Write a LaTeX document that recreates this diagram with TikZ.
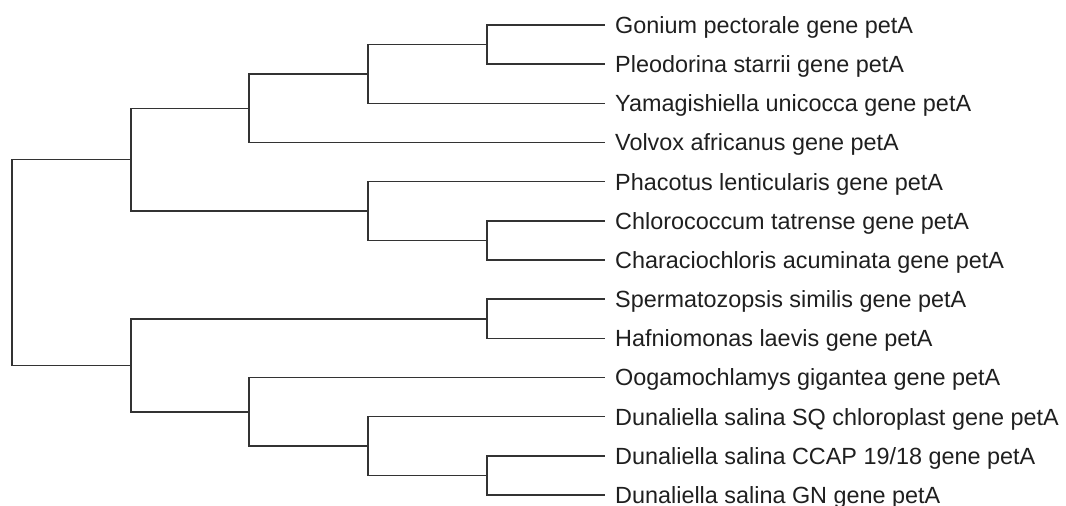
\documentclass[tikz,border=0pt]{standalone}
\usepackage{fontspec}
\setmainfont{Liberation Sans}
\usepackage{tikz}
\definecolor{ink}{gray}{0.12}
\definecolor{edge}{gray}{0.2}
\tikzset{
  taxon/.style={anchor=west, inner xsep=10pt, inner ysep=0pt, text height=16.8pt,
                text depth=0pt, text=ink, font=\fontsize{23.4}{28}\selectfont},
  branch/.style={draw=edge, line width=1.4pt},
}

\begin{document}
\begin{tikzpicture}[x=1pt, y=-1pt]
        \useasboundingbox (0,0) rectangle (1066,506);
        % leaves, top to bottom
        \foreach \name [count=\i] in {Gonium pectorale gene petA, Pleodorina starrii gene petA,
            Yamagishiella unicocca gene petA, Volvox africanus gene petA,
            Phacotus lenticularis gene petA, Chlorococcum tatrense gene petA,
            Characiochloris acuminata gene petA, Spermatozopsis similis gene petA,
            Hafniomonas laevis gene petA, Oogamochlamys gigantea gene petA,
            Dunaliella salina SQ chloroplast gene petA, Dunaliella salina CCAP 19/18 gene petA,
            Dunaliella salina GN gene petA}
          \node[taxon] (l\i) at (605,{25+(\i-1)*39.17}) {\name};
        % inner nodes
        \coordinate (gp) at (487,44.6);
        \coordinate (gpy) at (368,74);
        \coordinate (volv) at (249,108.2);
        \coordinate (chl) at (487,240.4);
        \coordinate (pha) at (368,211);
        \coordinate (up) at (131,159.6);
        \coordinate (sh) at (487,318.8);
        \coordinate (dun) at (487,475.4);
        \coordinate (dsq) at (368,446);
        \coordinate (oog) at (249,411.8);
        \coordinate (lo) at (131,365.3);
        \coordinate (root) at (12,262.5);
        % branches
        \draw[branch] (gp) |- (l1.west) (gp) |- (l2.west);
        \draw[branch] (gpy) |- (gp) (gpy) |- (l3.west);
        \draw[branch] (volv) |- (gpy) (volv) |- (l4.west);
        \draw[branch] (chl) |- (l6.west) (chl) |- (l7.west);
        \draw[branch] (pha) |- (l5.west) (pha) |- (chl);
        \draw[branch] (up) |- (volv) (up) |- (pha);
        \draw[branch] (sh) |- (l8.west) (sh) |- (l9.west);
        \draw[branch] (dun) |- (l12.west) (dun) |- (l13.west);
        \draw[branch] (dsq) |- (l11.west) (dsq) |- (dun);
        \draw[branch] (oog) |- (l10.west) (oog) |- (dsq);
        \draw[branch] (lo) |- (sh) (lo) |- (oog);
        \draw[branch] (root) |- (up) (root) |- (lo);
      \end{tikzpicture}
\end{document}
